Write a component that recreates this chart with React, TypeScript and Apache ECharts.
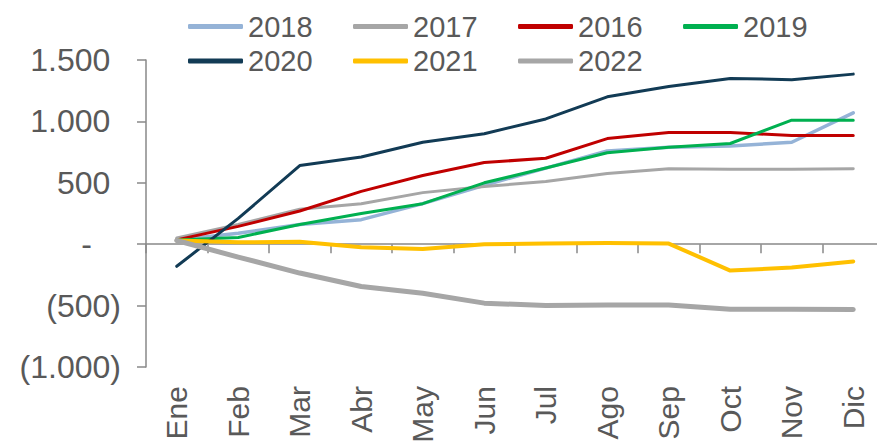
import React, { useEffect, useRef } from "react";
import * as echarts from "echarts";

const months = ["Ene", "Feb", "Mar", "Abr", "May", "Jun", "Jul", "Ago", "Sep", "Oct", "Nov", "Dic"];
const years = ["2018", "2017", "2016", "2019", "2020", "2021", "2022"];
const legendRow1 = ["2018", "2017", "2016", "2019"];
const legendRow2 = ["2020", "2021", "2022"];

const v2018 = [35, 90, 160, 200, 330, 480, 620, 760, 790, 800, 830, 1070];
const v2017 = [50, 160, 285, 330, 420, 470, 510, 575, 615, 610, 610, 615];
const v2016 = [35, 145, 270, 430, 560, 665, 700, 860, 910, 910, 885, 885];
const v2019 = [35, 55, 160, 250, 330, 500, 620, 745, 790, 820, 1010, 1010];
const v2020 = [-180, 210, 640, 710, 830, 900, 1020, 1200, 1285, 1350, 1340, 1385];
const v2021 = [30, 15, 20, -25, -40, 0, 5, 10, 5, -215, -190, -140];
const v2022 = [30, -105, -235, -345, -400, -480, -500, -495, -495, -530, -530, -532];

const seriesValues = [v2018, v2017, v2016, v2019, v2020, v2021, v2022];
const seriesColors = ["#95B3D7", "#A6A6A6", "#C00000", "#00B050", "#123B55", "#FFC000", "#A6A6A6"];
const seriesWidths = [3.5, 3, 3, 3, 3, 4, 5];

const yTicks = { min: -1000, max: 1500, interval: 500 };

const FONT = "'Liberation Sans', Arial, sans-serif";
const TEXT = "#595959";
const AXIS = "#898989";

function fmtNum(v: number): string {
  return Math.abs(v)
    .toString()
    .replace(/\B(?=(\d{3})+(?!\d))/g, ".");
}

export default function App() {
  const ref = useRef<HTMLDivElement>(null);

  useEffect(() => {
    if (!ref.current) return;
    const chart = echarts.init(ref.current, undefined, { renderer: "svg" });
    const legendCommon = {
      orient: "horizontal",
      left: 188,
      padding: 0,
      itemWidth: 55,
      itemHeight: 5,
      itemGap: 40.5,
      icon: "roundRect",
      textStyle: { color: TEXT, fontSize: 29, fontFamily: FONT },
    };
    chart.setOption({
      animation: false,
      backgroundColor: "#ffffff",
      legend: [
        { ...legendCommon, top: 12, data: legendRow1 },
        { ...legendCommon, top: 46.5, data: legendRow2 },
      ],
      grid: {
        left: 146,
        right: -7,
        top: 60,
        bottom: 77,
        containLabel: false,
        outerBoundsMode: "none",
      },
      xAxis: [
        {
          type: "category",
          data: months,
          position: "bottom",
          boundaryGap: true,
          axisLine: { show: false, onZero: false },
          axisTick: { show: false },
          axisLabel: {
            rotate: 90,
            interval: 0,
            margin: 19,
            fontSize: 30,
            color: TEXT,
            fontFamily: FONT,
          },
          splitLine: { show: false },
        },
        {
          type: "category",
          data: months,
          position: "top",
          boundaryGap: true,
          axisLine: { show: true, onZero: true, lineStyle: { color: AXIS, width: 1.5 } },
          axisTick: { show: true, inside: true, length: 9, lineStyle: { color: AXIS, width: 1.5 } },
          axisLabel: { show: false },
          splitLine: { show: false },
        },
      ],
      yAxis: {
        type: "value",
        min: yTicks.min,
        max: yTicks.max,
        interval: yTicks.interval,
        axisLine: { show: true, lineStyle: { color: AXIS, width: 1.5 } },
        axisTick: { show: true, length: 9, lineStyle: { color: AXIS, width: 1.5 } },
        splitLine: { show: false },
        axisLabel: {
          margin: 25,
          fontSize: 32,
          color: TEXT,
          fontFamily: FONT,
          formatter: (v: number) => {
            if (v === 0) return "{z|-}";
            if (v > 0) return "{p|" + fmtNum(v) + "}";
            return "(" + fmtNum(v) + ")";
          },
          rich: {
            z: { fontSize: 32, color: TEXT, fontFamily: FONT, padding: [0, 29, 0, 0] },
            p: { fontSize: 32, color: TEXT, fontFamily: FONT, padding: [0, 10.7, 0, 0] },
          },
        },
      },
      series: years.map((name, i) => ({
        name,
        type: "line",
        xAxisIndex: 0,
        data: seriesValues[i],
        showSymbol: false,
        symbol: "none",
        smooth: false,
        itemStyle: { color: seriesColors[i] },
        lineStyle: { color: seriesColors[i], width: seriesWidths[i], cap: "round", join: "round" },
      })),
    });
    return () => chart.dispose();
  }, []);

  return (
    <div
      ref={ref}
      style={{ position: "absolute", left: 0, top: 0, width: 877, height: 444 }}
    />
  );
}
